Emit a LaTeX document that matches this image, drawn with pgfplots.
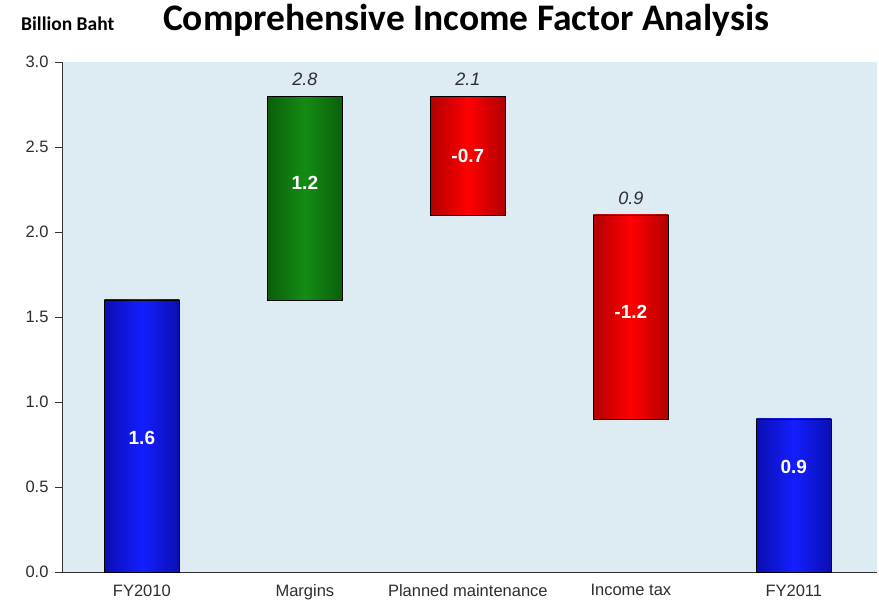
\documentclass[border=0pt]{standalone}
\usepackage{pgfplots}
\pgfplotsset{compat=1.18}
\usepackage{fontspec}
\setmainfont{Liberation Sans}
\newfontfamily\titlefont{Carlito}
\definecolor{bgblue}{RGB}{220,236,242}
\definecolor{bluedark}{RGB}{0,0,100}
\definecolor{bluemid}{RGB}{20,30,255}
\definecolor{greendark}{RGB}{0,50,0}
\definecolor{greenmid}{RGB}{20,140,20}
\definecolor{reddark}{RGB}{100,0,0}
\definecolor{redmid}{RGB}{255,0,0}
\definecolor{txtgray}{RGB}{45,45,45}
\pgfdeclarehorizontalshading{bluebar}{100bp}{color(0bp)=(bluedark); color(50bp)=(bluemid); color(100bp)=(bluedark)}
\pgfdeclarehorizontalshading{greenbar}{100bp}{color(0bp)=(greendark); color(50bp)=(greenmid); color(100bp)=(greendark)}
\pgfdeclarehorizontalshading{redbar}{100bp}{color(0bp)=(reddark); color(50bp)=(redmid); color(100bp)=(reddark)}
\begin{document}
\begin{tikzpicture}
\begin{axis}[
  scale only axis,
  width=815pt, height=510pt,
  xmin=-0.49, xmax=4.51,
  ymin=0, ymax=3,
  clip=false,
  axis lines*=left,
  axis line style={-, draw=black!80, line width=0.8pt},
  axis background/.style={fill=bgblue},
  xtick={0,1,2,3,4},
  xticklabels={FY2010,Margins,Planned maintenance,Income tax,FY2011},
  xtick style={draw=none},
  ytick={0,0.5,1,1.5,2,2.5,3},
  tick align=outside,
  major tick length=7pt,
  ytick style={draw=black!80, line width=0.8pt},
  /pgf/number format/assume math mode=true,
  ticklabel style={font=\fontsize{16.5}{19}\selectfont, text=txtgray},
  xticklabel style={yshift=-2pt},
  yticklabel style={xshift=-3pt, /pgf/number format/.cd, fixed, fixed zerofill, precision=1},
]
% FY2010: 0 -> 1.6
\addplot[draw=black, line width=0.8pt, shade, shading=bluebar, mark=none]
  coordinates {(-0.23,0) (0.23,0) (0.23,1.6) (-0.23,1.6)} -- cycle;
% Margins: 1.6 -> 2.8
\addplot[draw=black, line width=0.8pt, shade, shading=greenbar, mark=none]
  coordinates {(0.77,1.6) (1.23,1.6) (1.23,2.8) (0.77,2.8)} -- cycle;
% Planned maintenance: 2.8 -> 2.1
\addplot[draw=black, line width=0.8pt, shade, shading=redbar, mark=none]
  coordinates {(1.77,2.1) (2.23,2.1) (2.23,2.8) (1.77,2.8)} -- cycle;
% Income tax: 2.1 -> 0.9
\addplot[draw=black, line width=0.8pt, shade, shading=redbar, mark=none]
  coordinates {(2.77,0.9) (3.23,0.9) (3.23,2.1) (2.77,2.1)} -- cycle;
% FY2011: 0 -> 0.9
\addplot[draw=black, line width=0.8pt, shade, shading=bluebar, mark=none]
  coordinates {(3.77,0) (4.23,0) (4.23,0.9) (3.77,0.9)} -- cycle;

\begin{scope}[every node/.style={font=\bfseries\fontsize{19}{22}\selectfont, text=white}]
\node at (axis cs:0,0.79) {1.6};
\node at (axis cs:1,2.29) {1.2};
\node at (axis cs:2,2.45) {-0.7};
\node at (axis cs:3,1.53) {-1.2};
\node at (axis cs:4,0.62) {0.9};
\end{scope}
\begin{scope}[every node/.style={font=\itshape\fontsize{18}{20}\selectfont, text=txtgray, anchor=south, inner sep=0pt}]
\node at (axis cs:1,2.86) {2.8};
\node at (axis cs:2,2.86) {2.1};
\node at (axis cs:3,2.16) {0.9};
\end{scope}
\node[anchor=base west, inner sep=0pt, font=\titlefont\bfseries\fontsize{19.5}{22}\selectfont] at (axis description cs:-0.0503,1.0627) {Billion Baht};
\node[anchor=base, inner sep=0pt, font=\titlefont\bfseries\fontsize{37.5}{40}\selectfont] at (axis description cs:0.496,1.0627) {Comprehensive Income Factor Analysis};
\path (axis description cs:-0.0761,-0.0588) rectangle (axis description cs:1.0025,1.1216);
\end{axis}
\end{tikzpicture}
\end{document}
